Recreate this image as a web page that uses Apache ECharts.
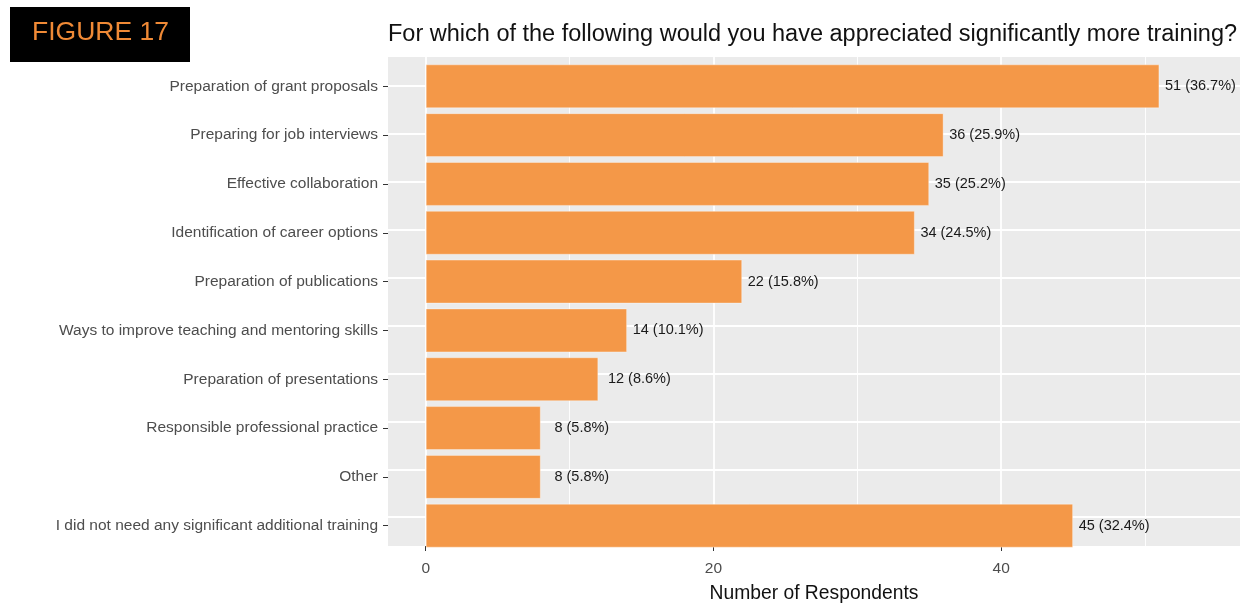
<!DOCTYPE html>
<html>
<head>
<meta charset="utf-8">
<script src="https://cdn.jsdelivr.net/npm/echarts@6/dist/echarts.min.js"></script>
<style>
  html, body { margin: 0; padding: 0; background: #fff; }
  #chart { width: 1248px; height: 608px; }
</style>
</head>
<body>
<div id="chart"></div>
<script>
// 数据
const categories = [
  'Preparation of grant proposals',
  'Preparing for job interviews',
  'Effective collaboration',
  'Identification of career options',
  'Preparation of publications',
  'Ways to improve teaching and mentoring skills',
  'Preparation of presentations',
  'Responsible professional practice',
  'Other',
  'I did not need any significant additional training'
];
const counts = [51, 36, 35, 34, 22, 14, 12, 8, 8, 45];
const percents = ['36.7', '25.9', '25.2', '24.5', '15.8', '10.1', '8.6', '5.8', '5.8', '32.4'];
const majorTicks = [0, 20, 40];
const minorTicks = [10, 30, 50];

const FONT = 'Liberation Sans';
const xMin = -2.62, xMax = 56.6;

// panel gridlines (category centres are 1..10 on the helper axis)
const hLines = categories.map((c, i) => ({yAxis: i + 1}));
const vMajor = majorTicks.map(v => ({xAxis: v}));
const vMinor = minorTicks.map(v => ({xAxis: v}));

const option = {
  animation: false,
  textStyle: {fontFamily: FONT},
  title: {
    text: 'For which of the following would you have appreciated significantly more training?',
    left: 383, top: 18,
    textStyle: {fontFamily: FONT, fontSize: 23.5, fontWeight: 'normal', color: '#111'}
  },
  graphic: [
    {type: 'rect', left: 10, top: 7, shape: {width: 180, height: 55}, style: {fill: '#000'}},
    {type: 'text', left: 32, top: 19, style: {text: 'FIGURE 17', fill: '#F08A36', font: '26.5px "Liberation Sans"'}}
  ],
  grid: [
    // panel
    {left: 388, right: 8, top: 57, height: 498, show: true, backgroundColor: '#EBEBEB', borderWidth: 0},
    // bars
    {left: 388, right: 8, top: 61.9, height: 488.2}
  ],
  xAxis: [
    {
      gridIndex: 0, type: 'value', min: xMin, max: xMax,
      axisLine: {show: false},
      splitLine: {show: false},
      axisTick: {show: true, customValues: majorTicks, length: 5, lineStyle: {color: '#333'}},
      axisLabel: {customValues: majorTicks, color: '#4D4D4D', fontSize: 15.5, margin: 15, fontFamily: FONT},
      name: 'Number of Respondents', nameLocation: 'middle', nameGap: 38,
      nameTextStyle: {fontSize: 19.3, color: '#111', fontFamily: FONT}
    },
    {
      gridIndex: 1, type: 'value', min: xMin, max: xMax, show: false
    }
  ],
  yAxis: [
    {gridIndex: 0, type: 'value', min: 0.4, max: 10.6, inverse: true, show: false},
    {
      gridIndex: 1, type: 'category', data: categories, inverse: true,
      axisLine: {show: false, onZero: false},
      axisTick: {show: true, alignWithLabel: true, length: 5, lineStyle: {color: '#333'}},
      axisLabel: {color: '#4D4D4D', fontSize: 15.5, margin: 10, fontFamily: FONT},
      splitLine: {show: false}
    }
  ],
  series: [
    {
      type: 'line', xAxisIndex: 0, yAxisIndex: 0, data: [], z: 1, silent: true,
      markLine: {
        silent: true, symbol: 'none', label: {show: false},
        lineStyle: {type: 'solid', color: '#fff', width: 0.9},
        data: vMinor
      }
    },
    {
      type: 'line', xAxisIndex: 0, yAxisIndex: 0, data: [], z: 1, silent: true,
      markLine: {
        silent: true, symbol: 'none', label: {show: false},
        lineStyle: {type: 'solid', color: '#fff', width: 1.8},
        data: vMajor.concat(hLines)
      }
    },
    {
      type: 'bar', xAxisIndex: 1, yAxisIndex: 1, z: 5,
      data: counts,
      barCategoryGap: '10%',
      itemStyle: {color: '#F49848', borderColor: 'rgba(255,255,255,0.35)', borderWidth: 1},
      label: {
        show: true, position: 'right', distance: 41, align: 'center',
        color: '#1a1a1a', fontSize: 14.5, fontFamily: FONT,
        formatter: p => p.value + ' (' + percents[p.dataIndex] + '%)'
      }
    }
  ]
};

const myChart = echarts.init(document.getElementById('chart'));
myChart.setOption(option);
</script>
</body>
</html>
